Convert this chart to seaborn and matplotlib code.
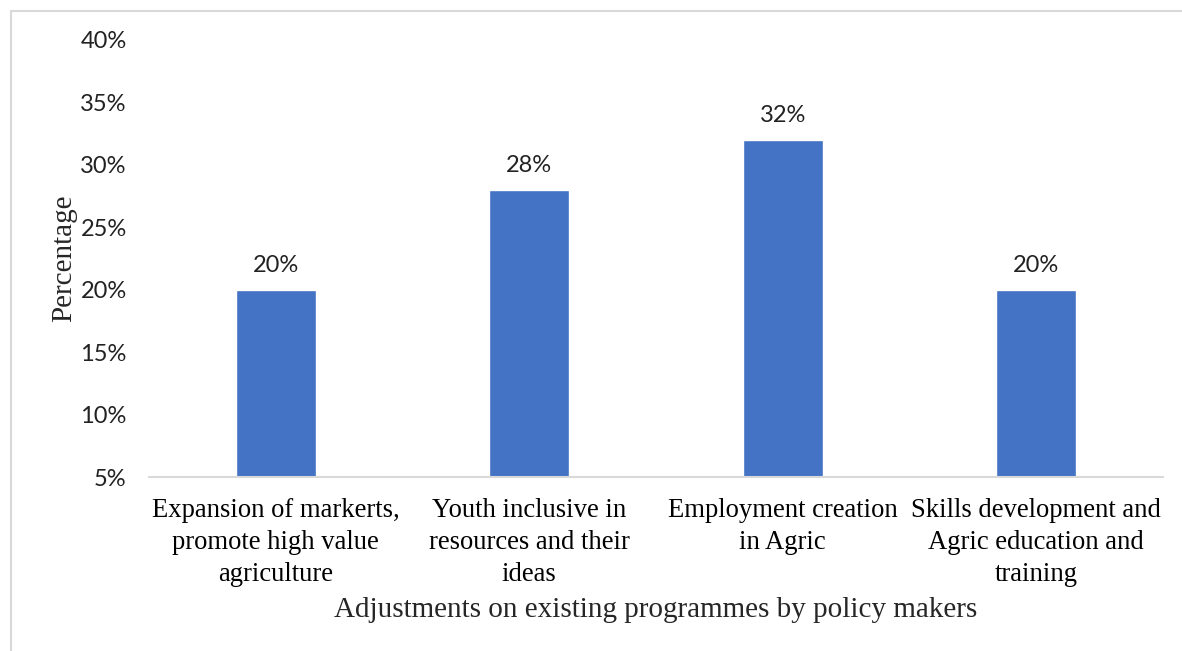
import matplotlib
matplotlib.use("Agg")
import matplotlib.pyplot as plt
import seaborn as sns
import pandas as pd
from matplotlib.lines import Line2D

categories = [
    "Expansion of markerts,\npromote high value\nagriculture",
    "Youth inclusive in\nresources and their\nideas",
    "Employment creation\nin Agric",
    "Skills development and\nAgric education and\ntraining",
]
values = [20, 28, 32, 20]
y_ticks = [5, 10, 15, 20, 25, 30, 35, 40]
y_tick_labels = [f"{t}%" for t in y_ticks]

df = pd.DataFrame({"cat": categories, "val": values})

sns.set_style("white")
fig = plt.figure(figsize=(11.82, 6.51), dpi=100)
ax = fig.add_axes([0.126, 0.267, 0.858, 0.672])

sns.barplot(data=df, x="cat", y="val", color="#4472C4", width=0.315,
            saturation=1, ax=ax)
# baseline at 5%
ax.set_ylim(5, 40)
for p in ax.patches:
    h = p.get_height()
    p.set_y(5)
    p.set_height(h - 5)

for i, v in enumerate(values):
    ax.annotate(f"{v}%", xy=(i, v), xytext=(0, 10), textcoords="offset points",
                ha="center", va="bottom", fontsize=17, family="Lato", color="#222222")

ax.set_yticks(y_ticks)
ax.set_yticklabels(y_tick_labels, fontsize=17, family="Lato", color="#222222")
ax.set_xticklabels(categories, fontsize=19.2, family="Liberation Serif", color="black",
                   linespacing=1.37)
ax.tick_params(axis="both", length=0)
ax.tick_params(axis="y", pad=16)
ax.tick_params(axis="x", pad=15)
ax.set_xlim(-0.5, 3.5)

ax.set_xlabel("Adjustments on existing programmes by policy makers",
              fontsize=21, family="Liberation Serif", labelpad=7)
ax.set_ylabel("Percentage", fontsize=21, family="Liberation Serif", labelpad=2.5)

for s in ["top", "right", "left"]:
    ax.spines[s].set_visible(False)
ax.spines["bottom"].set_color("#D9D9D9")
ax.spines["bottom"].set_linewidth(1.5)

# figure border (top and left visible)
x0 = 11 / 1182
y0 = 1 - 11 / 651
fig.add_artist(Line2D([x0, 1.01], [y0, y0], color="#D9D9D9", lw=1.5, transform=fig.transFigure))
fig.add_artist(Line2D([x0, x0], [-0.01, y0], color="#D9D9D9", lw=1.5, transform=fig.transFigure))

fig.savefig("out.png", dpi=100)
